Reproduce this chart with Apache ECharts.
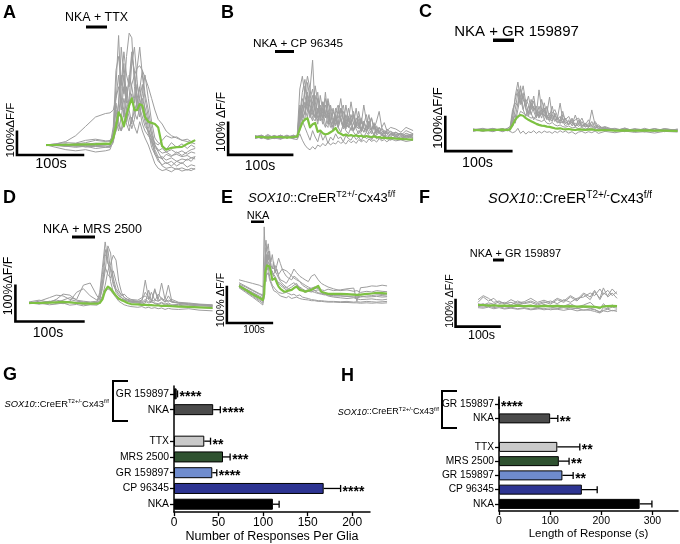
<!DOCTYPE html>
<html><head><meta charset="utf-8">
<script src="https://cdn.jsdelivr.net/npm/echarts@6/dist/echarts.min.js"></script>
<style>html,body{margin:0;padding:0;background:#fff}#c{width:680px;height:544px}</style>
</head><body><div id="c"></div>
<script>
// ---------------- DATA ----------------
// Panel A: NKA + TTX   (time s, ΔF/F %)
const A_TIME = [0,15,30,45,60,75,90, 97,102,106,110,114,118,122,126,130,134,138,142,146,150, 155,160,165,170,176,182,190,198,206,214,220,226];
const A_GRAY = [
 [0,2,-3,2,-2,3,0, 5,60,250,470,200,120,250,150,90,200,330,420,300,200, 120,40,-20,-50,-60,-40,-50,-30,-45,-30,-20,-15],
 [-3,0,5,-5,0,-4,2, 0,30,100,180,300,220,380,480,460,250,150,200,260,140, 80,20,-40,-70,-85,-75,-90,-70,-80,-60,-70,-50],
 [0,5,15,40,80,120,135, 138,150,200,250,180,300,200,160,220,140,110,160,120,80, 60,30,10,0,20,40,30,35,20,25,15,20],
 [2,-2,0,5,10,20,15, 20,40,80,120,200,150,100,180,260,300,330,340,320,290, 250,200,150,110,90,60,40,30,20,15,10,5],
 [0,-10,-20,-25,-20,-30,-25, -20,20,150,80,60,150,90,60,120,80,50,100,60,30, 0,-40,-80,-100,-110,-105,-115,-100,-112,-105,-110,-100],
 [0,3,-5,0,-8,-5,-10, -5,80,320,380,260,400,300,250,380,320,200,250,180,120, 60,-10,-40,-55,-50,-65,-55,-70,-60,-65,-55,-60],
 [0,5,10,8,20,25,18, 15,40,60,180,420,300,150,200,350,420,280,150,220,300, 200,100,30,10,0,-20,10,-10,5,-15,0,-10],
 [0,0,-5,-10,-5,-15,-10, -10,10,100,60,120,200,140,80,100,150,180,120,200,160, 100,50,0,-30,-60,-80,-70,-90,-75,-95,-85,-90],
 [0,-2,3,-4,2,-3,1, 0,50,200,300,150,250,180,300,250,180,260,200,150,100, 50,10,-30,-60,-90,-100,-95,-105,-98,-108,-100,-104],
 [0,2,0,5,3,8,5, 3,20,60,120,250,350,200,280,400,300,180,240,320,220, 150,70,0,-20,-35,-30,-45,-40,-50,-45,-55,-50],
 [0,-3,-6,-4,-8,-6,-5, -8,40,180,100,60,90,160,120,70,110,200,150,90,60, 40,20,-10,-25,-15,-30,-20,-35,-25,-40,-30,-35]
];
const A_MEAN = [0,0,1,2,3,4,6, 5,30,80,140,120,80,130,170,200,150,150,175,170,120, 100,95,90,75,-5,-20,-12,-9,-8,5,12,21];

// Panel B: NKA + CP 96345
const B_TIME = [0,10,20,30,40,50,60,66, 70,74,78,82,86,90,94,98,102,106,110,114,118,122,126,130,134,138,142,146,150,154,158,162,166,170,174,178,182,186,190,194,198,202,206, 212,220,228,236,247];
const B_GRAY = [
 [5,-5,8,-3,6,-4,5,0, 60,120,90,60,150,240,80,40,90,50,30,70,40,20,60,30,15,40,20,10,30,15,5,20,10,0,15,5,-5,10,0,-5,8,-3,5, -8,5,-5,3,-2],
 [-3,4,-6,5,-2,6,-5,5, 150,190,130,90,60,110,130,70,50,110,80,40,60,90,50,30,60,30,70,40,20,45,25,10,30,15,35,10,20,5,25,10,15,0,20, 10,15,5,20,10],
 [0,6,-4,2,-6,3,2,-3, 80,60,160,110,70,50,100,140,70,40,120,90,50,30,80,100,50,25,40,90,50,20,60,40,15,45,20,50,25,40,10,20,5,15,-5, 10,0,10,-5,5],
 [-5,0,-8,-3,-7,0,-6,-8, 10,-10,-25,-35,-40,-30,-38,-25,-30,-20,-28,-15,-25,-18,-22,-12,-20,-15,-22,-10,-18,-12,-20,-8,-15,-10,-18,-6,-14,-9,-16,-5,-12,-8,-15, -6,-12,-9,-14,-10],
 [3,-2,4,-5,3,-3,4,0, 40,100,70,130,90,60,50,90,60,80,40,30,100,60,35,70,120,60,30,50,110,60,30,80,40,100,50,30,60,25,50,80,30,45,20, 30,25,15,30,20],
 [2,-4,3,0,5,-2,0,4, 20,50,30,10,-10,20,0,-15,15,-10,5,-20,0,-10,10,-5,0,-15,5,-5,-10,5,-8,0,-12,5,-5,0,-10,5,-6,2,-8,5,-4, -10,0,-6,4,-5],
 [-2,3,-1,4,-3,2,-4,1, 100,80,50,170,120,80,60,120,90,60,100,70,45,80,60,40,90,55,35,65,45,80,35,25,55,30,20,40,60,25,35,15,30,10,25, 15,5,10,0,8],
 [1,-3,2,-2,4,-1,3,-2, 30,70,110,80,120,150,90,60,130,80,60,110,70,40,90,60,80,100,45,30,70,40,90,35,20,50,30,70,20,40,15,30,20,10,15, 5,10,0,12,3],
 [4,-3,1,-5,2,-2,6,-1, 70,140,180,100,70,130,90,50,70,110,60,80,50,30,70,40,90,50,25,60,35,20,45,30,60,25,15,35,20,10,30,15,5,20,10, 0,15,5,-3,8],
 [-4,2,-2,3,-5,4,-3,2, 90,50,80,140,100,70,160,110,60,90,70,120,80,50,40,90,60,35,100,50,40,70,30,55,20,40,70,30,20,45,15,30,10,5,-5, 10,2,-4,6,0],
 [2,5,-3,1,-4,2,-1,3, 50,90,140,190,150,90,60,80,100,60,140,60,30,50,70,30,60,80,40,30,50,20,40,65,30,15,35,25,10,30,5,15,25,20,10, 18,8,12,5,10]
];
const B_MEAN = [0,0,-2,0,0,-2,0,2, 25,45,55,59,30,40,44,16,20,12,8,10,15,20,28,14,10,5,8,4,6,3,5,2,4,0,3,1,0,2,-1,0,-3,-2,-4, -3,-5,-6,-7,-8];

// Panel C: NKA + GR 159897
const C_TIME = [0,15,30,45,52,56, 60,64,68,72,76,80,84,88,92,96,100,104,108,112,116,120,124,128,132,136, 140,145,150,155,160,165,170,175,180,185,190, 200,215,230,245,260,275,290,310];
const C_GRAY = [
 [3,-4,5,-3,4,0, 30,100,141,90,60,40,70,50,30,45,118,60,30,50,97,40,25,35,79,30, 20,25,15,44,15,10,20,8,59,15,5, 8,-3,6,-4,5,-3,4,-2],
 [-4,3,-5,4,-3,6, 60,80,70,120,90,70,100,60,85,50,40,90,55,30,40,70,35,20,30,55, 25,15,35,12,25,8,15,30,10,20,5, 10,0,-5,3,-6,4,-5,3],
 [1,5,-2,0,5,10, 25,45,35,55,50,45,40,35,38,30,28,25,30,20,18,22,15,12,15,10, 8,12,6,8,4,7,3,5,2,4,0, 3,-2,2,-1,1,-3,0,-4],
 [-2,0,3,-5,0,-4, -8,-5,5,-10,-3,-12,-5,-8,-2,-10,-4,-9,-3,-7,-5,-10,-4,-8,-2,-7, -3,-9,-5,-12,-6,-4,-9,-5,-8,-3,-10, -4,-8,-3,-7,-5,-9,-4,-6],
 [2,-3,0,4,-2,3, 40,20,60,100,130,80,50,90,60,70,40,50,80,45,30,50,60,40,25,45, 30,40,20,30,35,15,10,20,12,5,10, 2,5,-2,4,0,3,-2,2],
 [0,2,-2,3,0,-1, 20,60,110,75,100,65,45,80,55,35,70,45,60,35,50,30,45,25,20,35, 18,30,12,20,10,25,8,15,5,12,3, 5,-1,3,-3,2,-2,3,-1],
 [-3,1,4,-2,3,-1, 50,90,120,80,110,60,40,65,100,50,35,60,40,70,35,25,50,30,40,20, 35,15,25,10,30,12,20,8,15,25,10, 4,-2,5,-3,2,-4,3,0],
 [3,-1,-3,2,1,4, 10,35,80,130,60,90,75,45,70,40,55,35,65,40,25,45,30,35,20,25, 12,20,30,10,18,35,12,8,25,6,15, 0,3,-3,2,-2,4,-1,1]
];
const C_MEAN = [0,-1,0,1,0,2, 15,30,40,44,42,35,30,26,22,18,15,13,12,10,9,7,5,4,5,3, 2,3,1,0,2,1,0,1,2,0,-1, 0,-2,-1,-2,-1,-2,-2,-3];

// Panel D: NKA + MRS 2500
const D_TIME = [0,15,30,40,50,60,70,80,90,100, 104,108,112,116,120,124,128,132,136,140, 145,150,160,166,171,176,180,185,190,195,200,205,210, 220,235,250,270];
const D_GRAY = [
 [0,5,15,22,20,10,5,3,0,2, 30,100,171,120,60,30,20,15,10,8, 5,3,2,5,64,10,3,0,-2,2,-3,0,-5, -4,-6,-8,-10],
 [2,-2,5,0,8,15,10,50,56,20, 10,40,90,160,140,60,30,20,15,10, 5,2,0,-3,0,36,5,-2,-5,0,-6,-4,-8, -6,-10,-12,-15],
 [0,-3,0,3,-2,2,0,-4,-2,0, 5,20,50,90,110,134,120,60,30,15, 10,5,3,0,5,0,2,36,10,56,10,50,5, 0,-5,-6,-8],
 [-2,0,-5,-3,0,-6,-4,-8,-5,-6, 0,15,30,40,35,25,15,5,0,-5, -8,-10,-12,-10,-14,-12,-15,-13,-16,-14,-18,-15,-17, -18,-16,-20,-22],
 [3,8,2,10,25,22,8,5,3,5, 15,60,100,80,70,90,60,35,20,25, 15,10,8,15,20,10,30,8,5,10,3,8,2, 0,-3,-5,-8],
 [-1,2,4,8,5,3,1,0,-2,-1, 10,50,130,150,90,50,35,25,15,10, 8,5,4,2,10,3,5,40,5,15,2,20,3, 0,-2,-4,-6],
 [1,-2,3,-1,2,5,30,40,20,8, 20,80,150,110,100,70,40,30,25,15, 10,8,5,8,30,15,8,5,25,12,8,4,10, 2,0,-3,-5]
];
const D_MEAN = [0,0,1,2,3,2,0,-1,-2,-2, 0,10,35,46,40,30,20,12,8,5, 0,-3,-4,-5,-5,-6,-6,-7,-7,-8,-8,-8,-9, -10,-11,-12,-14];

// Panel E: SOX10::CreER Cx43 f/f, NKA
const E_TIME = [0,15,30,45,53, 56,58,60,62,65,68,71,74,77,80, 84,88,92,96,100,105,110,117,122,128, 135,141,147,154,161,168,176,183,190,198, 210,225,240,255,262,270,284,295,306,318,329];
const E_GRAY = [
 [5,-5,-15,-25,-30, 167,100,80,60,90,70,50,40,45,30, 20,10,5,0,-5,-8,-5,0,5,10, -5,-10,-15,-12,-10,-5,0,-15,-20,-22, -24,-25,-26,-28,-30,-28,-25,-24,-22,-24,-25],
 [0,-12,-25,-38,-45, -30,110,130,100,120,80,70,90,60,40, 50,30,20,25,15,10,20,35,50,40, 30,25,20,15,30,35,20,10,5,0, -5,-10,-8,-12,-10,-15,-12,-14,-10,-12,-13],
 [20,15,10,5,0, 10,40,70,90,100,85,60,55,50,60, 45,35,40,50,55,45,40,30,25,20, 15,10,5,0,-5,-10,-8,-15,-20,-25, -28,-30,-32,-30,-33,-35,-34,-33,-35,-36,-34],
 [-2,-15,-28,-42,-50, -55,20,30,25,40,20,10,0,-10,-5, -15,-20,-25,-22,-28,-30,-26,-32,-30,-28, -32,-34,-35,-36,-38,-38,-40,-40,-41,-42, -42,-43,-43,-44,-44,-45,-44,-45,-44,-45,-44],
 [8,0,-10,-20,-25, -15,60,90,70,50,65,45,35,30,40, 60,80,65,50,40,30,25,20,30,25, 15,5,0,-5,-3,0,-5,-8,-10,-6, -10,-8,-5,-3,-40,-2,0,3,2,5,3],
 [0,-10,-22,-35,-40, -38,30,15,45,55,30,15,5,10,-5, -10,-15,-12,-18,-20,-15,-18,-22,-20,-25, -22,-28,-30,-32,-35,-36,-38,-38,-39,-40, -40,-41,-40,-42,-41,-42,-40,-41,-42,-41,-40],
 [12,2,-8,-18,-22, -10,80,110,95,75,100,60,50,70,45, 35,25,15,10,5,0,-5,-8,-2,5, 0,-5,-10,-8,-12,-15,-18,-20,-22,-20, -18,-20,-22,-20,-21,-22,-20,-18,-19,-21,-20],
 [5,-6,-16,-28,-33, -25,50,75,90,70,55,35,45,30,25, 15,20,10,5,0,-3,2,8,12,5, -2,-8,-10,-12,-14,-10,-16,-18,-20,-22, -25,-24,-26,-25,-27,-26,-28,-27,-26,-28,-27]
];
const E_MEAN = [3,-8,-20,-30,-36, -20,38,50,60,61,57,40,20,22,24, 12,1,-5,-10,-13,-12,-10,-8,-3,1, -8,-10,-13,-10,-8,-3,3,-13,-16,-19, -19,-19,-20,-21,-22,-21,-19,-18,-16,-17,-18];

// Panel F: SOX10::CreER Cx43 f/f, NKA + GR 159897
const F_TIME = [0,12,24,36,48,60,75,90,105,120,135,150,165,180,195,210,225,240,255,265,277,285,295,305,316];
const F_GRAY = [
 [10,30,15,25,5,10,0,15,5,10,0,8,15,5,20,10,25,30,45,35,60,40,55,35,50],
 [-5,-8,-3,-10,-6,-12,-8,-14,-10,-15,-12,-18,-14,-16,-20,-15,-22,-18,-20,-24,-30,-22,-25,-20,-24],
 [5,0,8,3,12,5,10,2,8,15,5,12,3,20,10,30,15,40,20,50,25,64,30,45,25],
 [0,5,-5,2,-4,0,-6,4,-3,0,-8,2,-5,0,-4,5,-8,0,10,-5,-15,5,-10,0,-8],
 [-10,-12,-8,-14,-10,-15,-12,-16,-13,-18,-15,-12,-18,-14,-10,-16,-12,-20,-15,-18,-25,-20,-16,-22,-18],
 [20,35,25,10,15,5,20,8,12,25,10,18,8,25,15,35,20,45,30,55,20,45,35,60,40],
 [0,-4,2,-6,0,-3,-8,-2,-6,-4,-10,-5,-8,-12,-6,-10,-14,-8,-12,-16,-28,-10,-14,-8,-12]
];
const F_MEAN = [0,0,-2,-1,-3,-2,-3,-2,-4,-3,-5,-3,-4,-3,-5,-4,-6,-5,-6,-7,-10,-5,-4,-3,-4];

// Scale bar corners (s, %) for 100 s / 100 % bars
const A_SCALE = [-44,-43], B_SCALE = [-42,-56], C_SCALE = [-42,-62], D_SCALE = [-20,-52], E_SCALE = [-27,-100], F_SCALE = [-51,-81];

// Panels G / H
const BAR_CATS = ['GR 159897','NKA','','TTX','MRS 2500','GR 159897','CP 96345','NKA'];
const G_MEAN = [3,44,null,34,55,43,168,111];
const G_SEM  = [1,8,null,7,8,5,19,7];
const G_STARS = ['****','****','','**','***','****','****',''];
const H_MEAN = [0,100,null,114,117,124,162,275];
const H_SEM  = [0,15,null,44,20,21,30,24];
const H_STARS = ['****','**','','**','**','**','',''];
const G_TICKS = [0,50,100,150,200];
const H_TICKS = [0,100,200,300];

// ---------------- STYLE / LAYOUT ----------------
const FONT = '"Liberation Sans", Arial, sans-serif';
const GRAY = '#9e9e9e', GREEN = '#7dc142';
const BAR_COLORS = ['#111111','#4b4b4b','#000','#c9c9c9','#2f5230','#6f8cce','#2d3492','#000000'];

const PANELS = [
  {time:A_TIME, gray:A_GRAY, mean:A_MEAN, scale:A_SCALE, x0:46,  y0:145, sx:0.66, sy:0.233, box:[5,25,210,175]},
  {time:B_TIME, gray:B_GRAY, mean:B_MEAN, scale:B_SCALE, x0:255, y0:137, sx:0.64, sy:0.32,  box:[222,50,420,170]},
  {time:C_TIME, gray:C_GRAY, mean:C_MEAN, scale:C_SCALE, x0:473, y0:130, sx:0.66, sy:0.34,  box:[440,40,680,170]},
  {time:D_TIME, gray:D_GRAY, mean:D_MEAN, scale:D_SCALE, x0:29,  y0:303, sx:0.68, sy:0.357, box:[5,235,220,340]},
  {time:E_TIME, gray:E_GRAY, mean:E_MEAN, scale:E_SCALE, x0:239, y0:287, sx:0.45, sy:0.36,  box:[222,220,395,340]},
  {time:F_TIME, gray:F_GRAY, mean:F_MEAN, scale:F_SCALE, x0:478, y0:305, sx:0.44, sy:0.267, box:[445,265,625,340]}
];

const option = {
  animation:false, backgroundColor:'#fff',
  textStyle:{fontFamily:FONT, color:'#000'},
  grid:[], xAxis:[], yAxis:[], series:[], graphic:[]
};

function lineSeries(k, time, vals, color, width){
  return {type:'line', xAxisIndex:k, yAxisIndex:k, data:time.map((t,i)=>[t, vals[i]]),
    symbol:'none', silent:true, clip:false, emphasis:{disabled:true},
    lineStyle:{color:color, width:width, join:'round'}};
}

PANELS.forEach((p,k)=>{
  const [l,t,r,b] = p.box;
  option.grid.push({left:l, top:t, width:r-l, height:b-t});
  option.xAxis.push({type:'value', gridIndex:k, min:(l-p.x0)/p.sx, max:(r-p.x0)/p.sx, show:false});
  option.yAxis.push({type:'value', gridIndex:k, min:(p.y0-b)/p.sy, max:(p.y0-t)/p.sy, show:false});
  p.gray.forEach(v=>option.series.push(lineSeries(k, p.time, v, GRAY, 1)));
  option.series.push(lineSeries(k, p.time, p.mean, GREEN, 2.2));
  const [st, sv] = p.scale;
  option.series.push({type:'line', xAxisIndex:k, yAxisIndex:k, data:[[st,sv+100],[st,sv],[st+100,sv]],
    symbol:'none', silent:true, clip:false, lineStyle:{color:'#000', width:2.6, join:'miter', cap:'square'}});
});

// Bar panels
function barPanel(k, grid, mean, sem, stars, ticks, max, name, tickFont, catFont, nameFont, nameGap){
  option.grid.push(grid);
  option.xAxis.push({type:'value', gridIndex:k, min:0, max:max, interval:ticks[1]-ticks[0],
    axisLine:{show:true, onZero:false, lineStyle:{color:'#000', width:1.5}},
    axisTick:{show:true, length:4, customValues:ticks, lineStyle:{color:'#000', width:1.3}},
    axisLabel:{fontSize:tickFont, color:'#000', margin:5, customValues:ticks},
    splitLine:{show:false},
    name:name, nameLocation:'middle', nameGap:nameGap, nameTextStyle:{fontSize:nameFont, color:'#000'}});
  option.yAxis.push({type:'category', gridIndex:k, data:BAR_CATS, inverse:true,
    axisLine:{show:true, lineStyle:{color:'#000', width:1.5}},
    axisTick:{show:true, alignWithLabel:true, length:4, interval:(i,v)=>v!=='', lineStyle:{color:'#000', width:1.3}},
    axisLabel:{fontSize:catFont, color:'#000', margin:5, interval:0}});
  option.series.push({type:'bar', xAxisIndex:k, yAxisIndex:k, barWidth: k===6?11:10, silent:true,
    data: mean.map((m,i)=> m==null ? '-' : {value:m, itemStyle:{color:BAR_COLORS[i]}}),
    itemStyle:{borderColor:'#000', borderWidth:1}});
  option.series.push({type:'custom', xAxisIndex:k, yAxisIndex:k, silent:true, clip:false,
    encode:{x:0, y:1},
    data: mean.map((m,i)=> m==null ? null : [m, i, sem[i]]).filter(d=>d),
    renderItem:(params, api)=>{
      const m = api.value(0), i = api.value(1), e = api.value(2);
      const p0 = api.coord([m, i]), p1 = api.coord([m+e, i]);
      const ch = [];
      if (e > 0) {
        ch.push({type:'line', shape:{x1:p0[0], y1:p0[1], x2:p1[0], y2:p1[1]}, style:{stroke:'#000', lineWidth:1.3}});
        ch.push({type:'line', shape:{x1:p1[0], y1:p1[1]-3.5, x2:p1[0], y2:p1[1]+3.5}, style:{stroke:'#000', lineWidth:1.3}});
      }
      const s = stars[i];
      if (s) ch.push({type:'text', x:p1[0]+2, y:p1[1]+3.5,
        style:{text:s, fontSize:14, fontWeight:'bold', fontFamily:FONT, fill:'#000', align:'left', verticalAlign:'middle'}});
      return {type:'group', children:ch};
    }});
}
barPanel(6, {left:174, top:386, width:196, height:128}, G_MEAN, G_SEM, G_STARS, G_TICKS, 220,
  'Number of Responses Per Glia', 12, 10.4, 12.5, 16);
barPanel(7, {left:499, top:397, width:179, height:114}, H_MEAN, H_SEM, H_STARS, H_TICKS, 350,
  'Length of Response (s)', 10.5, 10.2, 11.5, 17);

// ---------------- ANNOTATIONS ----------------
const G = option.graphic;
function txt(x,y,text,size,extra){ G.push({type:'text', x:x, y:y, silent:true,
  style:Object.assign({text:text, fontSize:size, fontFamily:FONT, fill:'#000', align:'center', verticalAlign:'middle'}, extra||{})}); }
function vtxt(x,y,text,size){ G.push({type:'text', x:x, y:y, rotation:Math.PI/2, silent:true,
  style:{text:text, fontSize:size, fontFamily:FONT, fill:'#000', align:'center', verticalAlign:'middle'}}); }
function bar(x,y,w,h){ G.push({type:'rect', silent:true, shape:{x:x,y:y,width:w,height:h}, style:{fill:'#000'}}); }
function sox(x,y,size,align){ G.push({type:'text', x:x, y:y, silent:true, style:{
  text:'{i|SOX10}{n|::CreER}{s|T2+/-}{n|Cx43}{s|f/f}', align:align, verticalAlign:'middle', fill:'#000',
  rich:{i:{fontStyle:'italic', fontSize:size, fontFamily:FONT, lineHeight:size*1.25},
        n:{fontSize:size, fontFamily:FONT, lineHeight:size*1.25},
        s:{fontSize:Math.round(size*0.68), fontFamily:FONT, verticalAlign:'top', lineHeight:size*0.7}}}}); }

// panel letters
[['A',3,13],['B',221,13],['C',419,12],['D',3,198],['E',221,198],['F',419,198],['G',3,375],['H',341,376]]
  .forEach(([s,x,y])=>txt(x,y,s,18,{align:'left', fontWeight:'bold'}));

// stimulus titles + application bars
txt(96.5,18,'NKA + TTX',12.4);      bar(86,25.5,21,3);
txt(298,43.5,'NKA + CP 96345',11.8); bar(275,50,19,3);
txt(516.5,31.5,'NKA + GR 159897',15); bar(493,38.5,21,3.5);
txt(92.5,229.5,'NKA + MRS 2500',12.5); bar(72,235.5,23,3);
txt(258,216,'NKA',11);               bar(251,220.5,13,2.5);
txt(515.5,253.5,'NKA + GR 159897',11); bar(493,258.5,11,3);
sox(248,198,13,'left');
sox(488,199,14.5,'left');

// scale bar labels
txt(51,164,'100s',14.5); vtxt(11,130,'100%ΔF/F',11.6);
txt(260,166,'100s',14);  vtxt(222,122,'100% ΔF/F',12);
txt(477.5,163.5,'100s',14.3); vtxt(438,118,'100%ΔF/F',13);
txt(48,333.5,'100s',14); vtxt(9,286,'100%ΔF/F',12.4);
txt(254,330,'100s',10); vtxt(221,300,'100% ΔF/F',10.9);
txt(481.5,336,'100s',12.5); vtxt(450,301,'100% ΔF/F',10.7);

// G / H group labels + brackets
sox(109,404,9.4,'right');
sox(439,412,9,'right');
G.push({type:'polyline', silent:true, shape:{points:[[128,381],[113,381],[113,421],[128,421]]}, style:{stroke:'#000', lineWidth:2, fill:null}});
G.push({type:'polyline', silent:true, shape:{points:[[457,391],[442,391],[442,428],[457,428]]}, style:{stroke:'#000', lineWidth:2, fill:null}});

const chart = echarts.init(document.getElementById('c'), null, {renderer:'canvas'});
chart.setOption(option);
</script></body></html>
